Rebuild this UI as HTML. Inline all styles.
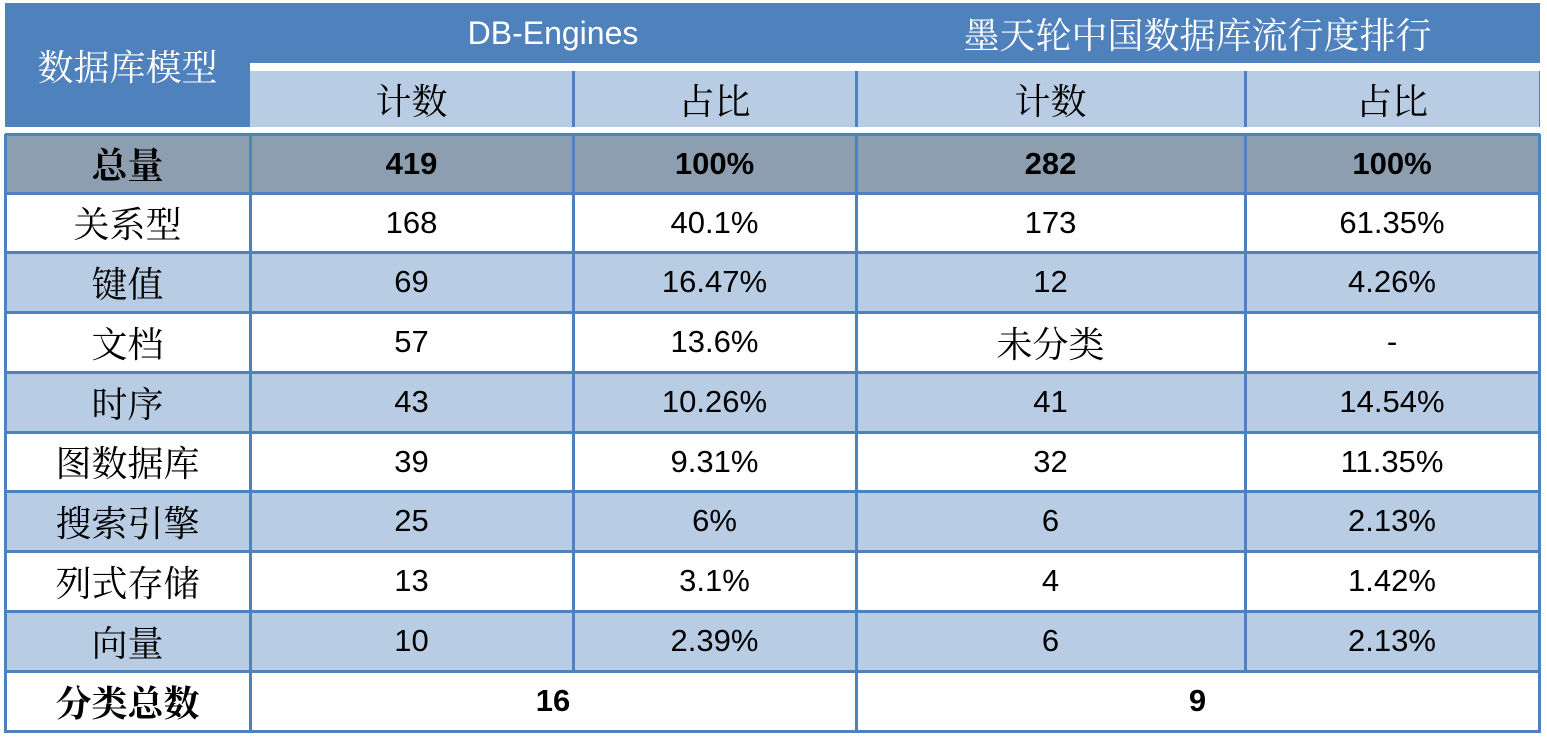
<!DOCTYPE html>
<html><head><meta charset="utf-8"><style>
body{margin:0;width:1547px;height:738px;background:#fff;position:relative;overflow:hidden;font-family:"Liberation Sans","Noto Sans CJK SC",sans-serif}
.c{position:absolute;display:flex;align-items:center;justify-content:center;box-sizing:border-box;color:#000;white-space:nowrap}
.n{font-size:31px}
.z{font-size:36px;font-family:"Noto Serif CJK SC","Noto Sans CJK SC",serif}
.b{font-weight:bold}
.h{position:absolute;background:#4f81bd}
</style></head><body>
<div class="h" style="left:5px;top:3px;width:1535px;height:124px"></div>
<div style="position:absolute;left:250px;top:63px;width:1290px;height:8px;background:#fff"></div>
<div style="position:absolute;left:250px;top:71px;width:1289px;height:56px;background:#b8cce4"></div>
<div class="c z" style="left:5px;top:3px;width:245px;height:124px;color:#fff">数据库模型</div>
<div class="c" style="left:250px;top:3px;width:606px;height:60px;color:#fff;font-size:32px">DB-Engines</div>
<div class="c z" style="left:856px;top:3px;width:683px;height:60px;color:#fff">墨天轮中国数据库流行度排行</div>
<div id="g"></div>
<script>
var X=[5,250,573,856,1245,1539];
var h='';
function cell(x0,x1,y0,y1,t,cls,bg){h+='<div class="c '+cls+'" style="left:'+x0+'px;top:'+y0+'px;width:'+(x1-x0)+'px;height:'+(y1-y0)+'px;'+(bg?'background:'+bg+';':'')+'"><span>'+t+'</span></div>';}
var sub=['计数','占比','计数','占比'];
for(var i=0;i<4;i++)cell(X[i+1],X[i+2],71,127,sub[i],'z');
[573,856,1245].forEach(function(x){h+='<div class="h" style="left:'+(x-1)+'px;top:71px;width:3px;height:56px"></div>';});
var rows=[['总量','419','100%','282','100%'],['关系型','168','40.1%','173','61.35%'],['键值','69','16.47%','12','4.26%'],['文档','57','13.6%','未分类','-'],['时序','43','10.26%','41','14.54%'],['图数据库','39','9.31%','32','11.35%'],['搜索引擎','25','6%','6','2.13%'],['列式存储','13','3.1%','4','1.42%'],['向量','10','2.39%','6','2.13%']];
var Y=[134,193,252,312,372,432,491,551,611,671,731];
for(var r=0;r<rows.length;r++){
 var bg=r==0?'#8e9eb1':(r%2==0?'#b8cce4':'#fff');
 for(var c=0;c<5;c++){var t=rows[r][c];var isz=/[^\x00-\x7f]/.test(t);cell(X[c],X[c+1],Y[r],Y[r+1],t,(isz?'z':'n')+(r==0?' b':''),bg);}
}
cell(X[0],X[1],671,731,'分类总数','z b','#fff');
cell(X[1],X[3],671,731,'16','n b','#fff');
cell(X[3],X[5],671,731,'9','n b','#fff');
for(var r=0;r<Y.length;r++)h+='<div class="h" style="left:5px;top:'+(Y[r]-1)+'px;width:1535px;height:3px"></div>';
for(var c=0;c<X.length;c++){h+='<div class="h" style="left:'+(X[c]-1)+'px;top:134px;width:3px;height:'+(c==2||c==4?537:599)+'px"></div>';}
document.getElementById('g').innerHTML=h;
</script>
</body></html>
